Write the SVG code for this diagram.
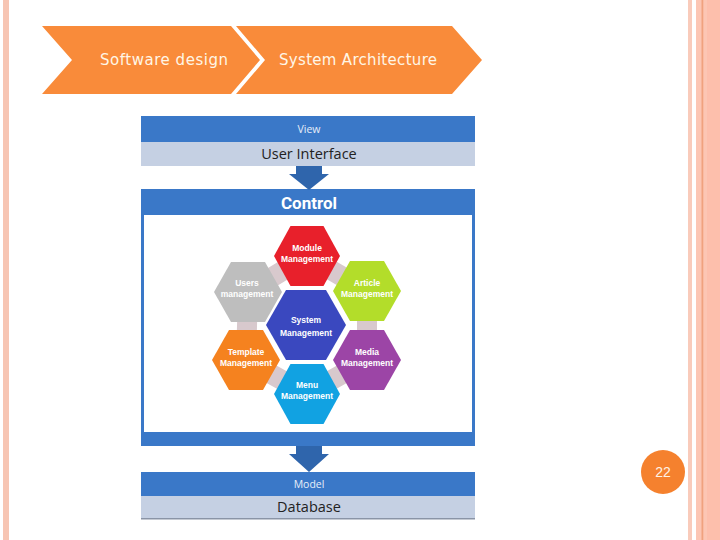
<svg xmlns="http://www.w3.org/2000/svg" width="720" height="540" viewBox="0 0 720 540">
<style>
.chev{fill:#F98B3A}
.chevt{font-family:"DejaVu Sans",Verdana,sans-serif;font-size:15px;fill:#FFF6E6}
.dark{fill:#3A78C8}
.light{fill:#C5D0E3}
.small{font-family:"Open Sans","Noto Sans",sans-serif;font-size:10.5px;fill:#E6EEF8;text-anchor:middle}
.big{font-family:"Open Sans","Noto Sans",sans-serif;font-size:14.5px;fill:#222;text-anchor:middle}
.ctl{font-family:Roboto,"Liberation Sans",sans-serif;font-size:17px;font-weight:bold;fill:#fff;text-anchor:middle}
.arrow{fill:#2F65AC}
.hex{stroke:none}
.ht{font-family:"Liberation Sans",Arial,sans-serif;font-size:8.5px;font-weight:bold;fill:#fff;text-anchor:middle}
</style>
<rect width="720" height="540" fill="#fff"/>
<!-- page borders -->
<rect x="3" y="0" width="6" height="540" fill="#F7C5B3"/>
<rect x="688" y="0" width="4" height="540" fill="#F9CBBB"/>
<rect x="696" y="0" width="24" height="540" fill="#FCC6B4"/>
<rect x="701.5" y="0" width="1.8" height="540" fill="#F0A27F"/>
<rect x="707" y="0" width="13" height="540" fill="#FDBFAC"/>

<g id="chevron-software-design">
<polygon class="chev" points="42,26 231,26 260,60 231,94 42,94 72,60"/>
<text class="chevt" x="164" y="65" text-anchor="middle" textLength="128">Software design</text>
</g>
<g id="chevron-system-architecture">
<polygon class="chev" points="236,26 452,26 482,60 452,94 236,94 265,60"/>
<text class="chevt" x="358" y="65" text-anchor="middle" textLength="158">System Architecture</text>
</g>

<g id="view">
<rect class="dark" x="141" y="116" width="334" height="26"/>
<rect class="light" x="141" y="142" width="334" height="24"/>
<text class="small" x="309" y="133">View</text>
<text class="big" x="309" y="159">User Interface</text>
</g>

<g id="control">
<rect class="dark" x="141" y="189" width="334" height="257"/>
<rect x="144" y="215" width="328" height="217" fill="#fff"/>
<text class="ctl" x="309" y="209">Control</text>
</g>

<g id="model">
<rect class="dark" x="141" y="472" width="334" height="24"/>
<rect class="light" x="141" y="496" width="334" height="23"/>
<rect x="141" y="518" width="334" height="1.5" fill="#8A94A6"/>
<text class="small" x="309" y="488">Model</text>
<text class="big" x="309" y="512">Database</text>
</g>

<g id="connectors">
<polygon class="arrow" points="296,166 322,166 322,174 329,174 309,190 289,174 296,174"/>
<polygon class="arrow" points="296,446 322,446 322,454 329,454 309,472 289,454 296,454"/>
</g>

<g id="ring">
<polygon points="307,256 367,291 367,360 307,394 246,360 248,292" fill="none" stroke="#D8C9CD" stroke-width="20" stroke-linejoin="round"/>
</g>

<g id="hex-module">
<polygon class="hex" fill="#E8202B" points="274,256 290.5,226 323.5,226 340,256 323.5,286 290.5,286"/>
<text class="ht" x="307" y="251">Module</text>
<text class="ht" x="307" y="262">Management</text>
</g>
<g id="hex-users">
<polygon class="hex" fill="#BEBEBE" points="214,292 231,262 265,262 282,292 265,322 231,322"/>
<text class="ht" x="247" y="286">Users</text>
<text class="ht" x="247" y="297">management</text>
</g>
<g id="hex-article">
<polygon class="hex" fill="#B3DD2A" points="333,291 350,261 384,261 401,291 384,321 350,321"/>
<text class="ht" x="367" y="286">Article</text>
<text class="ht" x="367" y="297">Management</text>
</g>
<g id="hex-template">
<polygon class="hex" fill="#F5821F" points="212,360 229,330 263,330 280,360 263,390 229,390"/>
<text class="ht" x="246" y="355">Template</text>
<text class="ht" x="246" y="366">Management</text>
</g>
<g id="hex-media">
<polygon class="hex" fill="#9C45A6" points="333,360 350,330 384,330 401,360 384,390 350,390"/>
<text class="ht" x="367" y="355">Media</text>
<text class="ht" x="367" y="366">Management</text>
</g>
<g id="hex-menu">
<polygon class="hex" fill="#11A2E2" points="274,394 290.5,364 323.5,364 340,394 323.5,424 290.5,424"/>
<text class="ht" x="307" y="388">Menu</text>
<text class="ht" x="307" y="399">Management</text>
</g>
<g id="hex-system">
<polygon class="hex" fill="#3A48BF" points="266,325 286,290 326,290 346,325 326,360 286,360"/>
<text class="ht" x="306" y="323">System</text>
<text class="ht" x="306" y="336">Management</text>
</g>

<g id="page-number">
<circle cx="663" cy="472" r="22" fill="#F5812E"/>
<text x="663" y="477" text-anchor="middle" font-family="'Liberation Sans',Arial,sans-serif" font-size="14" fill="#FFF3E6">22</text>
</g>
</svg>
